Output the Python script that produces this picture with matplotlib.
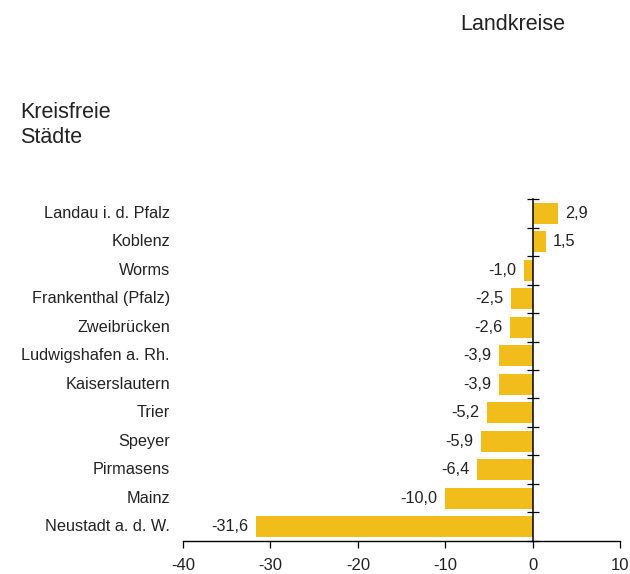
import numpy as np
import matplotlib
matplotlib.use('Agg')
import matplotlib.pyplot as plt
from matplotlib.transforms import blended_transform_factory

plt.rcParams['font.family'] = ['Liberation Sans', 'DejaVu Sans']

# Bevölkerungsentwicklung der kreisfreien Städte (oben nach unten)
staedte = ['Landau i. d. Pfalz', 'Koblenz', 'Worms', 'Frankenthal (Pfalz)',
           'Zweibrücken', 'Ludwigshafen a. Rh.', 'Kaiserslautern', 'Trier',
           'Speyer', 'Pirmasens', 'Mainz', 'Neustadt a. d. W.']
werte = [2.9, 1.5, -1.0, -2.5, -2.6, -3.9, -3.9, -5.2, -5.9, -6.4, -10.0, -31.6]
x_ticks = [-40, -30, -20, -10, 0, 10]

BAR_COLOR = '#F0BD1B'
TEXT_COLOR = '#222222'
FS = 11.7

fig = plt.figure(figsize=(6.3, 5.74), dpi=100)
ax = fig.add_axes([0.2905, 0.0575, 0.6937, 0.5958])

y = np.arange(len(staedte))[::-1]
ax.barh(y, werte, height=0.75, color=BAR_COLOR, zorder=2)

ax.set_xlim(-40, 10)
ax.set_ylim(-0.5, len(staedte) - 0.5)

# Nulllinie als linke Achse mit Strichen zwischen den Balken
ax.spines['left'].set_position(('data', 0))
ax.spines['left'].set_linewidth(1.1)
ax.spines['left'].set_zorder(3)
ax.set_yticks(np.arange(len(staedte) + 1) - 0.5)
ax.tick_params(axis='y', direction='inout', length=9, width=0.9,
               labelleft=False)
for s in ['top', 'right']:
    ax.spines[s].set_visible(False)
ax.spines['bottom'].set_linewidth(1.0)

ax.set_xticks(x_ticks)
ax.set_xticklabels([str(t) for t in x_ticks])
ax.tick_params(axis='x', direction='out', length=5, width=0.9,
               labelsize=12, labelcolor=TEXT_COLOR, pad=7)

# Beschriftungen der Städte links
trans = blended_transform_factory(ax.transAxes, ax.transData)
for yi, name in zip(y, staedte):
    ax.text(-0.03, yi, name, transform=trans, ha='right', va='center',
            fontsize=FS, color=TEXT_COLOR)

# Werte an den Balkenenden
for yi, v in zip(y, werte):
    label = f'{v:.1f}'.replace('.', ',')
    if v >= 0:
        ax.annotate(label, (v, yi), xytext=(5, 0), textcoords='offset points',
                    ha='left', va='center', fontsize=FS, color=TEXT_COLOR)
    else:
        ax.annotate(label, (v, yi), xytext=(-5.5, 0), textcoords='offset points',
                    ha='right', va='center', fontsize=FS, color=TEXT_COLOR)

fig.text(460 / 630, 1 - 24 / 574, 'Landkreise', ha='left', va='center',
         fontsize=15.5, color=TEXT_COLOR)
fig.text(20 / 630, 1 - 125 / 574, 'Kreisfreie\nStädte', ha='left', va='center',
         fontsize=15.5, color=TEXT_COLOR, linespacing=1.25)

fig.savefig('out.png', dpi=100)
